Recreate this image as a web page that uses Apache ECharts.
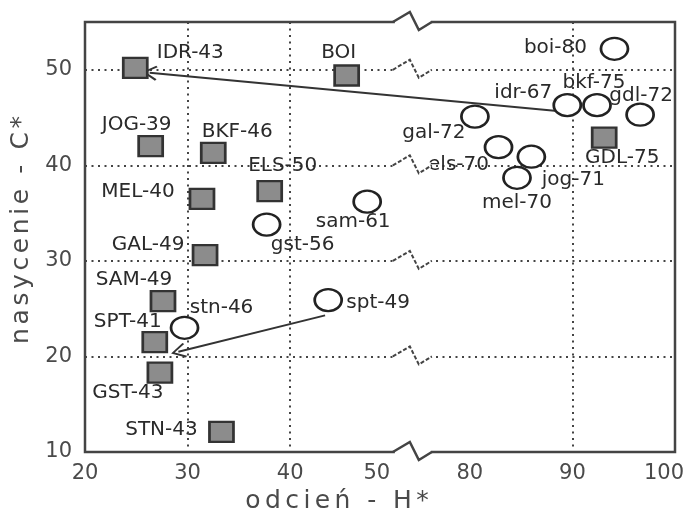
<!DOCTYPE html>
<html>
<head>
<meta charset="utf-8">
<script src="https://cdn.jsdelivr.net/npm/echarts@6/dist/echarts.min.js"></script>
<style>html,body{margin:0;background:#fff}#chart{width:690px;height:519px}</style>
</head>
<body>
<div id="chart"></div>
<script>
// próbki - wielkie litery (kwadraty)
var upperNames = ['IDR-43', 'BOI', 'JOG-39', 'BKF-46', 'ELS-50', 'MEL-40', 'GAL-49', 'SAM-49', 'SPT-41', 'GST-43', 'STN-43', 'GDL-75'];
var upperHue = [24.9, 45.5, 26.4, 32.5, 38.0, 31.4, 31.7, 27.6, 26.8, 27.3, 33.3, 93.1];
var upperChroma = [50.2, 49.4, 42.0, 41.3, 37.3, 36.5, 30.6, 25.8, 21.5, 18.3, 12.1, 42.9];
// próbki - małe litery (kółka)
var lowerNames = ['boi-80', 'idr-67', 'bkf-75', 'gdl-72', 'gal-72', 'els-70', 'jog-71', 'mel-70', 'sam-61', 'gst-56', 'spt-49', 'stn-46'];
var lowerHue = [94.1, 89.5, 92.4, 96.6, 80.5, 82.8, 86.0, 84.6, 47.5, 37.7, 43.7, 29.7];
var lowerChroma = [52.2, 46.3, 46.3, 45.3, 45.1, 41.9, 40.9, 38.7, 36.2, 33.8, 25.9, 23.0];
// strzałki (H, C)
var arrowFrom = [[89.3, 45.6], [43.4, 24.3]];
var arrowTo = [[26.3, 49.7], [29.1, 20.5]];
// przerwa na osi H
var hueBreak = [50, 80];

// położenie podpisów względem znacznika (px)
var labelOffset = {
  'IDR-43': [55, -15], 'BOI': [-8, -23], 'JOG-39': [-14, -21], 'BKF-46': [24, -21],
  'ELS-50': [13, -25], 'MEL-40': [-64, -7], 'GAL-49': [-57, -10], 'SAM-49': [-29, -21],
  'SPT-41': [-27, -20], 'GST-43': [-32, 20], 'STN-43': [-60, -2], 'GDL-75': [18, 20],
  'boi-80': [-59, -1], 'idr-67': [-44, -12], 'bkf-75': [-3, -22], 'gdl-72': [1, -19],
  'gal-72': [-41, 16], 'els-70': [-40, 18], 'jog-71': [42, 23], 'mel-70': [0, 25],
  'sam-61': [-14, 20], 'gst-56': [36, 20], 'spt-49': [50, 3], 'stn-46': [37, -20]
};

var FONT = 'DejaVu Sans';
var ellipse = 'path://M0,1 A1,1 0 1,1 2,1 A1,1 0 1,1 0,1 Z';
var chevron = 'path://M5,0 L10,9 L9,10 L5,2.5 L1,10 L0,9 Z';

function points(names, xs, ys) {
  return names.map(function(n, i) {
    return {
      name: n,
      value: [xs[i], ys[i]],
      label: { offset: labelOffset[n] }
    };
  });
}

function spaced(s) {
  return s.split('').map(function(c) { return '{s|' + c + '}'; }).join('');
}

var chart = echarts.init(document.getElementById('chart'));

var tickStyle = { fontFamily: FONT, fontSize: 21, color: '#4a4a4a' };

var option = {
  backgroundColor: '#fff',
  animation: false,
  grid: {
    left: 85, right: 15, top: 22, bottom: 67,
    outerBoundsMode: 'none',
    show: true, borderColor: '#444', borderWidth: 2.5, backgroundColor: 'transparent'
  },
  xAxis: {
    type: 'value',
    min: 20, max: 100, interval: 10,
    breaks: [{ start: hueBreak[0], end: hueBreak[1], gap: 7.5 }],
    breakArea: { show: false },
    name: spaced('odcień - H*'),
    nameLocation: 'middle',
    nameGap: 34,
    nameTextStyle: {
      padding: [0, 86, 0, 0],
      rich: { s: { fontFamily: FONT, fontSize: 25, color: '#4a4a4a', padding: [0, 2.2] } }
    },
    axisLine: { show: false },
    axisTick: { show: false },
    axisLabel: {
      fontFamily: FONT, fontSize: 21, color: '#4a4a4a', margin: 11,
      formatter: function(v) {
        if (v === 50) return '{a|50}';
        if (v === 100) return '{b|100}';
        return v;
      },
      rich: {
        a: Object.assign({ padding: [0, 32, 0, 0] }, tickStyle),
        b: Object.assign({ padding: [0, 22, 0, 0] }, tickStyle)
      }
    },
    splitLine: { show: true, lineStyle: { color: '#444', width: 2, type: [2, 4.5] } }
  },
  yAxis: {
    type: 'value',
    min: 10, max: 55, interval: 10,
    name: spaced('nasycenie - C*'),
    nameLocation: 'middle',
    nameGap: 48,
    nameTextStyle: {
      padding: [0, 0, 0, 14],
      rich: { s: { fontFamily: FONT, fontSize: 25, color: '#4a4a4a', padding: [0, 1.8] } }
    },
    axisLine: { show: false },
    axisTick: { show: false },
    axisLabel: { fontFamily: FONT, fontSize: 21, color: '#4a4a4a', margin: 13, showMaxLabel: false },
    splitLine: { show: true, lineStyle: { color: '#444', width: 2, type: [2, 4.5] } }
  },
  series: [
    {
      type: 'lines',
      coordinateSystem: 'cartesian2d',
      z: 1,
      symbol: ['none', chevron],
      symbolSize: [16, 15],
      lineStyle: { color: '#333', width: 2, opacity: 1 },
      data: arrowFrom.map(function(p, i) { return { coords: [p, arrowTo[i]] }; })
    },
    {
      type: 'scatter',
      z: 3,
      symbol: ellipse,
      symbolSize: [27, 22],
      itemStyle: { color: '#fff', borderColor: '#222', borderWidth: 2.5, opacity: 1 },
      label: {
        show: true, position: 'inside', formatter: '{b}',
        fontFamily: FONT, fontSize: 20, color: '#2a2a2a'
      },
      data: points(lowerNames, lowerHue, lowerChroma)
    },
    {
      type: 'scatter',
      z: 4,
      symbol: 'rect',
      symbolSize: [24, 20],
      itemStyle: { color: '#8c8c8c', borderColor: '#333', borderWidth: 2.5, opacity: 1 },
      label: {
        show: true, position: 'inside', formatter: '{b}',
        fontFamily: FONT, fontSize: 20, color: '#2a2a2a'
      },
      data: points(upperNames, upperHue, upperChroma)
    }
  ]
};
chart.setOption(option);

// zygzaki przerwy osi
var x0 = chart.convertToPixel({ xAxisIndex: 0 }, hueBreak[0]);
var zig = [[0, 0], [17, -10], [26, 8], [39, 0]];
var gfx = [];
[55, 50, 40, 30, 20, 10].forEach(function(v) {
  var y0 = chart.convertToPixel({ yAxisIndex: 0 }, v);
  var frame = (v === 55 || v === 10);
  gfx.push({
    type: 'rect', z: 50,
    shape: { x: x0 + 2, y: y0 - 3, width: 36, height: 6 },
    style: { fill: '#fff' }
  });
  gfx.push({
    type: 'polyline', z: 51,
    shape: { points: zig.map(function(p) { return [x0 + p[0], y0 + p[1]]; }) },
    style: { stroke: '#444', lineWidth: frame ? 2.5 : 2, fill: null, lineDash: frame ? null : [4, 2] }
  });
});
chart.setOption({ graphic: gfx });
</script>
</body>
</html>
